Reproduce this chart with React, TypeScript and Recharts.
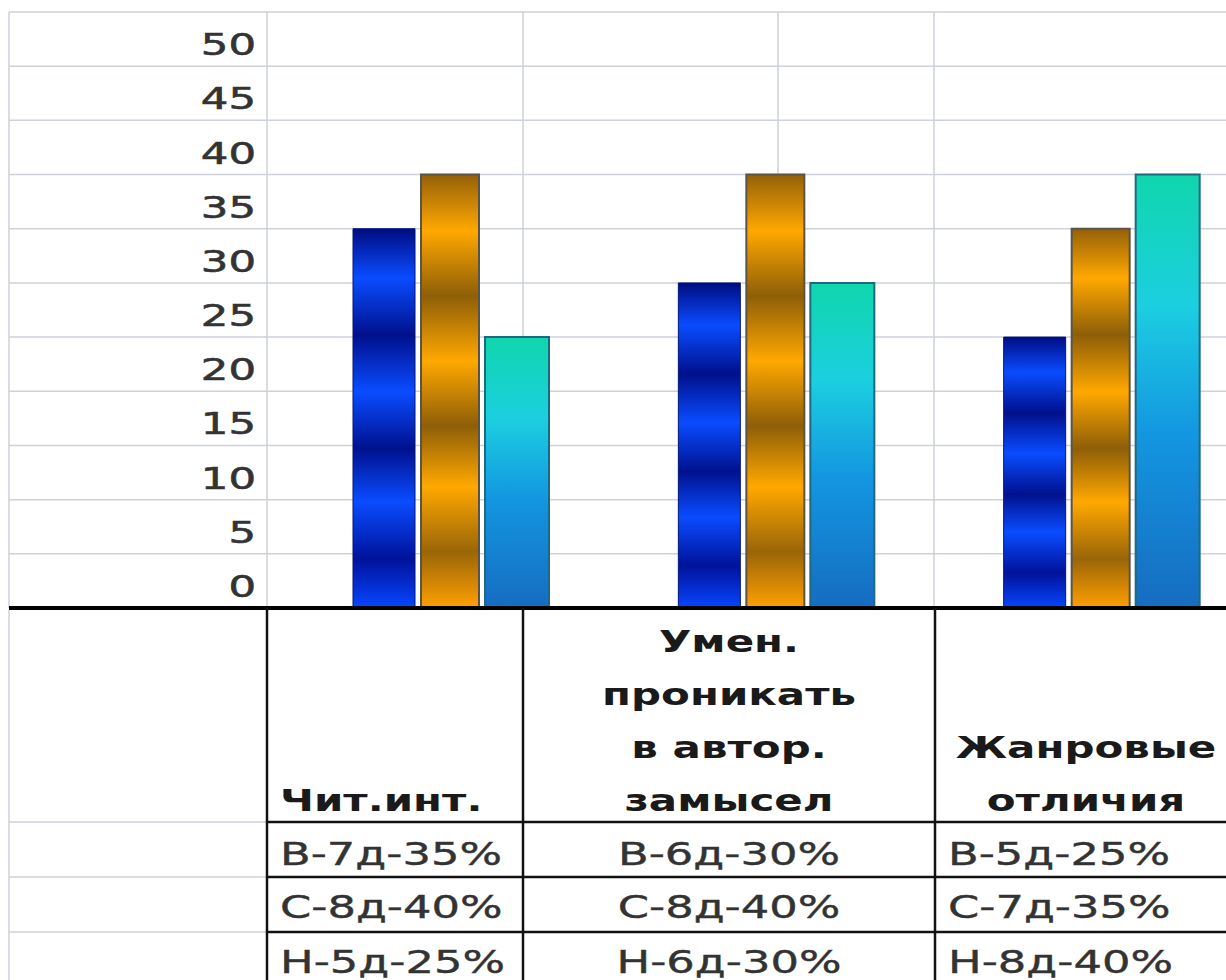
import { BarChart, Bar, XAxis, YAxis, CartesianGrid } from "recharts"

// categories and their header lines in the data table
const categories = ["Чит.инт.", "Умен. проникать в автор. замысел", "Жанровые отличия"]
const headerLines = [["Чит.инт."], ["Умен.", "проникать", "в автор.", "замысел"], ["Жанровые", "отличия"]]

// levels: В (high), С (middle), Н (low)
const levels = ["В", "С", "Н"]
const highValues = [35, 30, 25]
const highCounts = [7, 6, 5]
const midValues = [40, 40, 35]
const midCounts = [8, 8, 7]
const lowValues = [25, 30, 40]
const lowCounts = [5, 6, 8]

const yTicks = [0, 5, 10, 15, 20, 25, 30, 35, 40, 45, 50, 55]

const data = categories.map((name, i) => ({
  name,
  high: highValues[i],
  mid: midValues[i],
  low: lowValues[i],
}))

const tableRows = [
  { level: levels[0], values: highValues, counts: highCounts },
  { level: levels[1], values: midValues, counts: midCounts },
  { level: levels[2], values: lowValues, counts: lowCounts },
]

const FONT = "'DejaVu Sans', Verdana, sans-serif"
const STRETCH = 1.4
const GRID = "#cdd1d9"

function YTick(props: any) {
  const { y, payload } = props
  if (payload.value === 55) return null
  return (
    <text
      transform={`translate(256,${y - 11}) scale(${STRETCH},1)`}
      textAnchor="end"
      fontSize={31}
      fontFamily={FONT}
      fill="#333"
      stroke="#333"
      strokeWidth={0.6}
    >
      {payload.value}
    </text>
  )
}

function StretchText({ x, y, anchor, bold, children }: any) {
  return (
    <text
      transform={`translate(${x},${y}) scale(${STRETCH},1)`}
      textAnchor={anchor}
      fontSize={bold ? 30 : 32}
      fontWeight={bold ? "bold" : "normal"}
      fontFamily={FONT}
      fill={bold ? "#1a1a1a" : "#333"}
      stroke={bold ? "none" : "#333"}
      strokeWidth={0.4}
    >
      {children}
    </text>
  )
}

function DataTable() {
  const colLeft = [267, 523, 935]
  const colCenter = [395, 729, 1086]
  const headerAlign = ["start", "middle", "middle"]
  const valueAlign = ["start", "middle", "start"]
  const rowLines = [822, 877, 932]
  const rowBaselines = [865, 918, 973]

  const xFor = (col: number, align: string) => (align === "start" ? colLeft[col] + 13 : colCenter[col])

  return (
    <svg width={1226} height={980} style={{ position: "absolute", left: 0, top: 0, pointerEvents: "none" }}>
      {/* spreadsheet cell lines of the label column */}
      <line x1={9} y1={610} x2={9} y2={980} stroke={GRID} strokeWidth={1.5} />
      {rowLines.map((y) => (
        <line key={"g" + y} x1={9} y1={y} x2={267} y2={y} stroke={GRID} strokeWidth={1.5} />
      ))}
      {/* table borders */}
      {colLeft.map((x) => (
        <line key={"v" + x} x1={x} y1={608} x2={x} y2={980} stroke="#111" strokeWidth={2.5} />
      ))}
      {rowLines.map((y) => (
        <line key={"h" + y} x1={267} y1={y} x2={1226} y2={y} stroke="#111" strokeWidth={2.5} />
      ))}
      {headerLines.map((lines, col) =>
        lines.map((line, j) => (
          <StretchText
            key={col + "-" + j}
            x={xFor(col, headerAlign[col])}
            y={811 - (lines.length - 1 - j) * 53}
            anchor={headerAlign[col]}
            bold
          >
            {line}
          </StretchText>
        ))
      )}
      {tableRows.map((row, r) =>
        categories.map((_, col) => (
          <StretchText
            key={r + "-" + col}
            x={xFor(col, valueAlign[col])}
            y={rowBaselines[r]}
            anchor={valueAlign[col]}
          >
            {`${row.level}-${row.counts[col]}д-${row.values[col]}%`}
          </StretchText>
        ))
      )}
    </svg>
  )
}

export default function App() {
  return (
    <div
      style={{
        position: "absolute",
        left: 0,
        top: 0,
        width: 1226,
        height: 980,
        overflow: "hidden",
        background: "#fff",
      }}
    >
      <BarChart
        width={1264}
        height={620}
        data={data}
        margin={{ top: 12, right: 0, bottom: 10, left: 0 }}
        barGap={6}
      >
        <defs>
          <linearGradient id="blueStripes" x1="0" y1="0" x2="0" y2="1">
            <stop offset="0" stopColor="#000c82" />
            <stop offset="0.13" stopColor="#0a4cff" />
            <stop offset="0.28" stopColor="#00108c" />
            <stop offset="0.43" stopColor="#0a4cff" />
            <stop offset="0.58" stopColor="#00118e" />
            <stop offset="0.72" stopColor="#0a4cff" />
            <stop offset="0.87" stopColor="#00129a" />
            <stop offset="1" stopColor="#0846ff" />
          </linearGradient>
          <linearGradient id="orangeStripes" x1="0" y1="0" x2="0" y2="1">
            <stop offset="0" stopColor="#946008" />
            <stop offset="0.13" stopColor="#ffa800" />
            <stop offset="0.28" stopColor="#8e5e08" />
            <stop offset="0.43" stopColor="#ffa800" />
            <stop offset="0.58" stopColor="#8e5e08" />
            <stop offset="0.72" stopColor="#ffa800" />
            <stop offset="0.87" stopColor="#9a6508" />
            <stop offset="1" stopColor="#ffa000" />
          </linearGradient>
          <linearGradient id="tealFade" x1="0" y1="0" x2="0" y2="1">
            <stop offset="0" stopColor="#0fd6ad" />
            <stop offset="0.3" stopColor="#1ccfe0" />
            <stop offset="0.6" stopColor="#1396e0" />
            <stop offset="1" stopColor="#166cc0" />
          </linearGradient>
        </defs>
        <CartesianGrid
          stroke={GRID}
          strokeWidth={1.5}
          vertical
          verticalPoints={[9, 267, 523, 778, 934]}
        />
        <XAxis
          dataKey="name"
          padding={{ left: 279, right: 0 }}
          height={2}
          tick={false}
          tickLine={false}
          axisLine={{ stroke: "#000", strokeWidth: 4 }}
        />
        <YAxis
          width={9}
          domain={[0, 55]}
          ticks={yTicks}
          interval={0}
          axisLine={false}
          tickLine={false}
          tick={(p: any) => <YTick {...p} />}
        />
        <Bar dataKey="high" barSize={62} fill="url(#blueStripes)" stroke="#00167a" strokeWidth={1} isAnimationActive={false} />
        <Bar dataKey="mid" barSize={58} fill="url(#orangeStripes)" stroke="#5a5448" strokeWidth={2} isAnimationActive={false} />
        <Bar dataKey="low" barSize={64} fill="url(#tealFade)" stroke="#1d6a80" strokeWidth={2} isAnimationActive={false} />
      </BarChart>
      <DataTable />
    </div>
  )
}
